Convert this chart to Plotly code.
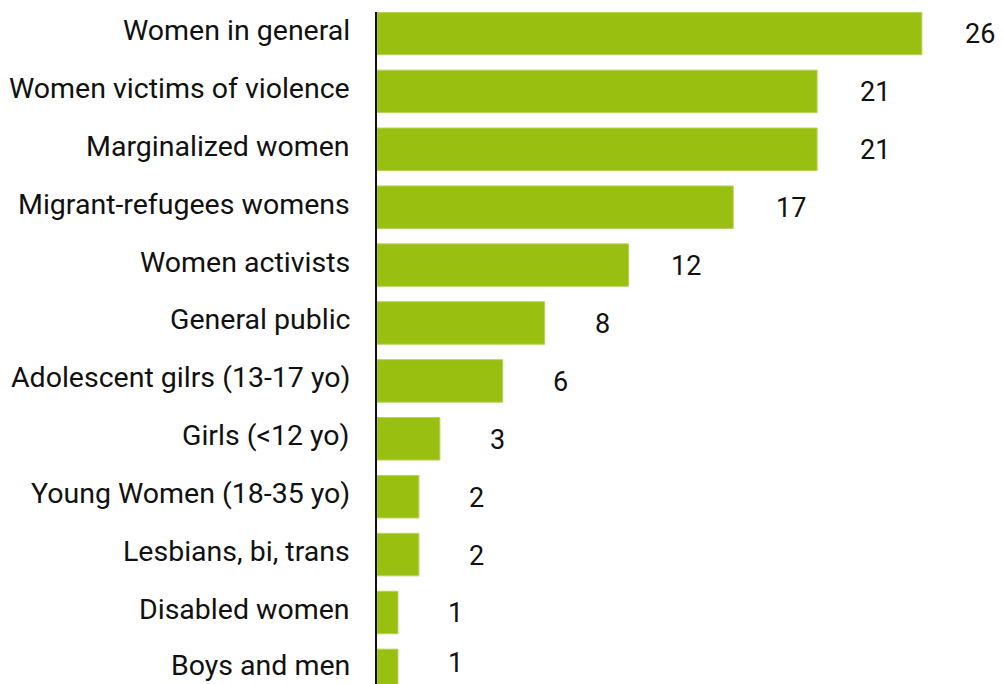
import plotly.graph_objects as go

categories = ["Women in general", "Women victims of violence", "Marginalized women",
              "Migrant-refugees womens", "Women activists", "General public",
              "Adolescent gilrs (13-17 yo)", "Girls (<12 yo)", "Young Women (18-35 yo)",
              "Lesbians, bi, trans", "Disabled women", "Boys and men"]
values = [26, 21, 21, 17, 12, 8, 6, 3, 2, 2, 1, 1]

FONT = "Roboto"
fig = go.Figure()
fig.add_trace(go.Bar(
    x=values, y=categories, orientation="h",
    marker=dict(color="#99BF10", line=dict(color="#B5D45A", width=1)),
    hoverinfo="skip",
))
n = len(categories)
for i, (c, v) in enumerate(zip(categories, values)):
    last = i == n - 1
    # category label, left of the axis
    fig.add_annotation(x=0, xref="paper", y=c, text=c, showarrow=False,
                       xanchor="right", xshift=-25, yshift=3 + (2 if last else 0),
                       font=dict(family=FONT, size=28.5, color="#111111"))
    # value label, right of the bar
    fig.add_annotation(x=v, y=c, text=str(v), showarrow=False,
                       xanchor="center", xshift=58, yshift=(7 if last else -1),
                       font=dict(family=FONT, size=27, color="#111111"))

# page body has an 8px margin, so the figure is sized to fill the window from (8, 8)
fig.update_layout(
    width=995, height=676,
    margin=dict(l=369, r=0, t=4, b=0, autoexpand=False),
    plot_bgcolor="white", paper_bgcolor="white",
    bargap=0.266, showlegend=False,
    xaxis=dict(range=[0, 29.87], visible=False, showgrid=False, zeroline=False,
               automargin=False),
    yaxis=dict(type="category", range=[11.235, -0.371], showgrid=False, zeroline=False,
               showline=True, linecolor="#111111", linewidth=2, automargin=False,
               showticklabels=False, ticks=""),
)
fig.write_html("out.html")
